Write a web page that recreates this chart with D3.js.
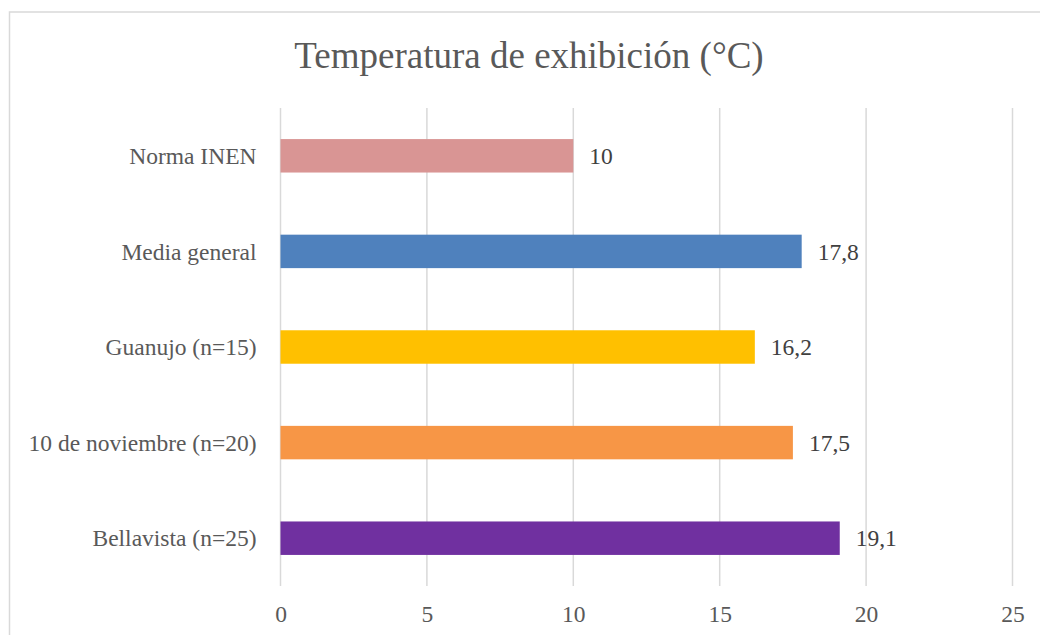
<!DOCTYPE html>
<html>
<head>
<meta charset="utf-8">
<script src="https://cdn.jsdelivr.net/npm/d3@7"></script>
<style>
  body { margin: 0; background: #fff; }
  svg { display: block; }
</style>
</head>
<body>
<svg id="chart" width="1040" height="635"></svg>
<script>
// datos del gráfico
const categories = ["Norma INEN", "Media general", "Guanujo (n=15)", "10 de noviembre (n=20)", "Bellavista (n=25)"];
const values = [10, 17.8, 16.2, 17.5, 19.1];
const barColors = ["#D99594", "#4F81BD", "#FFC000", "#F79646", "#7030A0"];
const xTicks = [0, 5, 10, 15, 20, 25];

const svg = d3.select("#chart");
const font = "'Liberation Serif', 'Times New Roman', serif";
const textColor = "#595959";

// marco del gráfico
svg.append("rect")
    .attr("x", 9.5).attr("y", 12)
    .attr("width", 1050).attr("height", 650)
    .attr("fill", "#fff")
    .attr("stroke", "#d9d9d9")
    .attr("stroke-width", 1.5);

const plot = { left: 280.5, right: 1012.5, top: 108, bottom: 586 };

const x = d3.scaleLinear().domain([0, 25]).range([plot.left, plot.right]);
const y = d3.scaleBand().domain(categories).range([plot.top, plot.bottom]).paddingInner(0.65).paddingOuter(0.325);

// líneas de cuadrícula
svg.append("g")
    .selectAll("line")
    .data(xTicks)
    .join("line")
    .attr("x1", d => x(d)).attr("x2", d => x(d))
    .attr("y1", plot.top).attr("y2", plot.bottom)
    .attr("stroke", "#d9d9d9")
    .attr("stroke-width", 1.5);

// eje x
const xAxis = svg.append("g")
    .attr("transform", `translate(0,${plot.bottom})`)
    .call(d3.axisBottom(x).tickValues(xTicks).tickSize(0).tickPadding(19.5));
xAxis.select(".domain").remove();
xAxis.selectAll("text")
    .attr("fill", textColor)
    .style("font-family", font)
    .style("font-size", "23.5px");

// eje y
const yAxis = svg.append("g")
    .attr("transform", `translate(${plot.left},0)`)
    .call(d3.axisLeft(y).tickSize(0).tickPadding(24));
yAxis.select(".domain").remove();
yAxis.selectAll("text")
    .attr("fill", textColor)
    .attr("dy", "0.35em")
    .style("font-family", font)
    .style("font-size", "23.5px");

const rows = categories.map((c, i) => ({ cat: c, value: values[i], color: barColors[i] }));

// barras
svg.append("g")
    .selectAll("rect")
    .data(rows)
    .join("rect")
    .attr("x", x(0))
    .attr("y", d => y(d.cat))
    .attr("width", d => x(d.value) - x(0))
    .attr("height", y.bandwidth())
    .attr("fill", d => d.color);

// etiquetas de datos
svg.append("g")
    .selectAll("text")
    .data(rows)
    .join("text")
    .attr("x", d => x(d.value) + 16)
    .attr("y", d => y(d.cat) + y.bandwidth() / 2)
    .attr("dy", "0.35em")
    .attr("fill", "#404040")
    .style("font-family", font)
    .style("font-size", "23.5px")
    .text(d => String(d.value).replace(".", ","));

// título
svg.append("text")
    .attr("x", 529)
    .attr("y", 68)
    .attr("text-anchor", "middle")
    .attr("fill", textColor)
    .style("font-family", font)
    .style("font-size", "37px")
    .text("Temperatura de exhibición (°C)");
</script>
</body>
</html>
